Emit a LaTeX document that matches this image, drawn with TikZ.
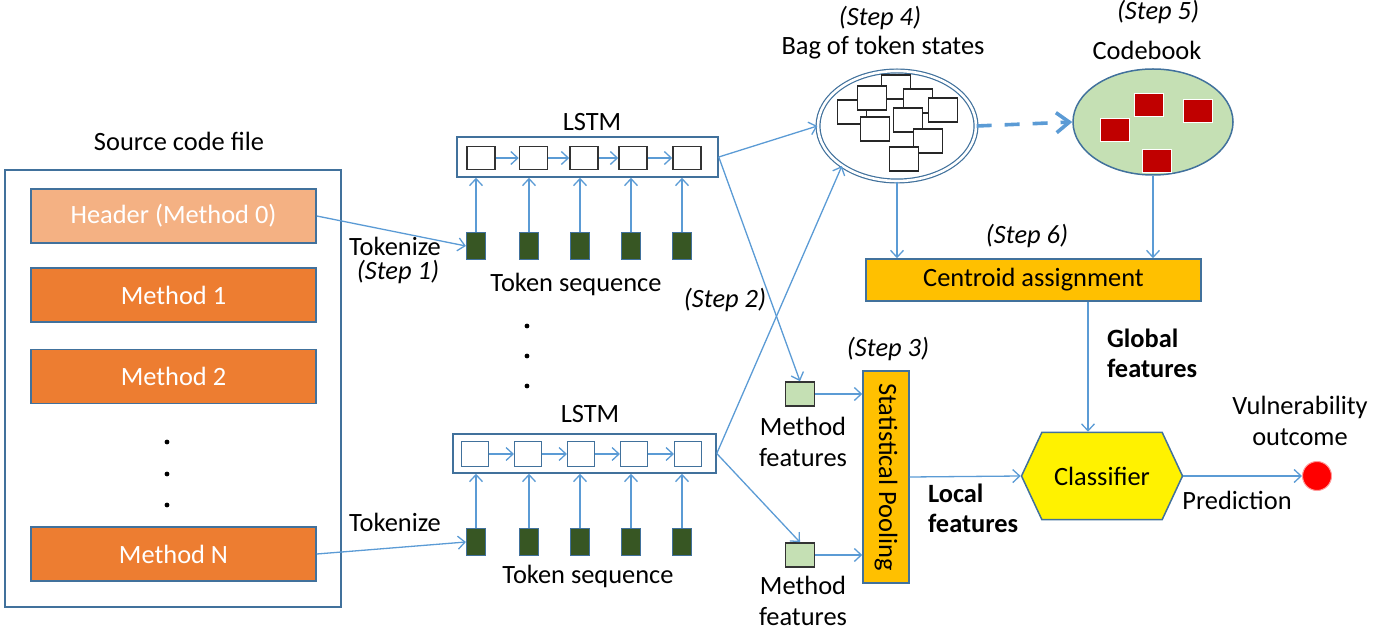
\documentclass[tikz,border=0pt]{standalone}
\usepackage{fontspec}
\setmainfont{Carlito}
\usetikzlibrary{shapes.geometric,shapes.symbols,arrows.meta,calc}
\definecolor{linkblue}{RGB}{91,155,213}
\definecolor{edgeblue}{RGB}{65,113,156}
\definecolor{headerorange}{RGB}{244,177,131}
\definecolor{methodorange}{RGB}{237,125,49}
\definecolor{tokengreen}{RGB}{55,86,35}
\definecolor{codegreen}{RGB}{197,224,180}
\definecolor{poolgold}{RGB}{255,192,0}
\definecolor{centroidred}{RGB}{192,0,0}

\tikzset{
  link/.style={->, draw=linkblue, line width=0.65pt},
  methodbox/.style={draw=edgeblue, line width=0.75pt, fill=methodorange, text=white, minimum width=142.5pt, minimum height=27pt, inner sep=0pt},
  lstmbox/.style={draw=edgeblue, line width=0.75pt, minimum width=130.5pt, minimum height=20pt, inner sep=0pt},
  cell/.style={draw=black!80, line width=0.75pt, fill=white, minimum width=14pt, minimum height=11.5pt, inner sep=0pt},
  token/.style={draw=edgeblue, line width=0.6pt, fill=tokengreen, minimum width=9.5pt, minimum height=13.5pt, inner sep=0pt},
  featbox/.style={draw=black!80, line width=0.75pt, fill=codegreen, minimum width=14.5pt, minimum height=12pt, inner sep=0pt},
  statebox/.style={draw=black!85, line width=0.75pt, fill=white, minimum width=14.5pt, minimum height=12pt, inner sep=0pt},
  centroid/.style={draw=white, line width=0.5pt, fill=centroidred, minimum width=14.5pt, minimum height=11.5pt, inner sep=0pt},
  goldbox/.style={draw=edgeblue, line width=0.75pt, fill=poolgold, inner sep=0pt},
  steplabel/.style={font=\fontsize{13.2}{15.5}\selectfont\itshape},
  boldlabel/.style={font=\fontsize{13.2}{15}\selectfont\bfseries, align=left, anchor=west},
}

\begin{document}
\begin{tikzpicture}[x=0.5pt, y=-0.5pt, >={Straight Barb[length=3.5pt,width=6.5pt]}, font=\fontsize{13.2}{15.5}\selectfont]
        \useasboundingbox (0,0) rectangle (1396,635);

        % Source code file
        \node[draw=edgeblue, line width=0.75pt, minimum width=168pt, minimum height=218.5pt, inner sep=0pt] (file) at (173,388.5) {};
        \node (filelabel) at (179,141) {Source code file};
        \node[methodbox, fill=headerorange] (m0) at (173.5,216) {Header (Method 0)};
        \node[methodbox] (m1) at (173.5,295) {Method 1};
        \node[methodbox] (m2) at (173.5,376.5) {Method 2};
        \node[methodbox] (mN) at (173.5,554) {Method N};
        \foreach \y in {442,474,505} \fill (167,\y) circle (1.2pt);

        % LSTM of the header
        \node[lstmbox] (lstmA) at (587.5,157) {};
        \node (lstmAlabel) at (592,122) {LSTM};
        \foreach \i/\cx/\tx in {1/481/476,2/533.5/529,3/584/580,4/633/631,5/687/682} {
            \node[cell] (a\i) at (\cx,158) {};
            \node[token] (ta\i) at (\tx,246) {};
            \draw[link] (ta\i.north) -- (ta\i.north |- lstmA.south);
        }
        \foreach \i/\j in {1/2,2/3,3/4,4/5} \draw[link] (a\i) -- (a\j);
        \node (seqA) at (576,284) {Token sequence};
        \node (tokA) at (395,246) {Tokenize};
        \node[steplabel] (step1) at (398,272) {(Step 1)};
        \draw[link] (m0.east) -- (ta1.west);

        \foreach \y in {326,356,386} \fill (527,\y) circle (1.2pt);

        % LSTM of method N
        \node[lstmbox, minimum width=131.5pt, minimum height=19.5pt] (lstmB) at (584.5,453.5) {};
        \node (lstmBlabel) at (590,414) {LSTM};
        \foreach \i/\cx/\tx in {1/475/476,2/528/529,3/581/580,4/634/631,5/688/682} {
            \node[cell, draw=edgeblue, minimum width=13.3pt, minimum height=12.5pt] (b\i) at (\cx,454) {};
            \node[token] (tb\i) at (\tx,542) {};
            \draw[link] (tb\i.north) -- (tb\i.north |- lstmB.south);
        }
        \foreach \i/\j in {1/2,2/3,3/4,4/5} \draw[link] (b\i) -- (b\j);
        \node (seqB) at (588,576) {Token sequence};
        \node (tokB) at (395,522) {Tokenize};
        \draw[link] (mN.east) -- (tb1.west);

        % Bag of token states
        \node[ellipse, draw=edgeblue, double, double distance=1.3pt, line width=0.6pt, minimum width=79pt, minimum height=55pt, inner sep=0pt] (bag) at (897,126) {};
        \foreach \sx/\sy in {852/112,896/87,872/98,918/101,943/110,875/129,908/120,928/141,904/159}
            \node[statebox] at (\sx,\sy) {};
        \node[steplabel] (step4) at (880,18) {(Step 4)};
        \node (baglabel) at (883,48) {Bag of token states};

        % Codebook
        \node[ellipse, draw=edgeblue, line width=0.75pt, fill=codegreen, minimum width=80pt, minimum height=53pt, inner sep=0pt] (codebook) at (1153,122) {};
        \foreach \sx/\sy in {1149/105,1198/111,1115/130,1157/161}
            \node[centroid] at (\sx,\sy) {};
        \node[steplabel] (step5) at (1158,12) {(Step 5)};
        \node (codelabel) at (1147,50) {Codebook};
        \draw[->, draw=linkblue, line width=1.8pt, dash pattern=on 7.5pt off 6.5pt, >={Straight Barb[length=6.5pt,width=10pt]}] (bag.east) -- (codebook.west);

        % Step 2
        \draw[link] (lstmA.east) -- (bag.west);
        \draw[link] (lstmB.east) -- (bag.216);
        \node[featbox] (featA) at (800,394) {};
        \node[featbox] (featB) at (800,555) {};
        \draw[link] (lstmA.east) -- (featA.north);
        \draw[link] (lstmB.east) -- (featB.north);
        \node[steplabel] (step2) at (725,300) {(Step 2)};
        \node[align=center] (featAlabel) at (803,442) {Method\\features};
        \node[align=center] (featBlabel) at (803,601) {Method\\features};

        % Step 3
        \node[goldbox, minimum width=23pt, minimum height=106pt] (pool) at (886,477) {};
        \node[rotate=-90] (pooltext) at (pool.center) {Statistical Pooling};
        \node[steplabel] (step3) at (888,349) {(Step 3)};
        \draw[link] (featA.east) -- (featA.east -| pool.west);
        \draw[link] (featB.east) -- (featB.east -| pool.west);

        % Step 6
        \node[goldbox, minimum width=167.5pt, minimum height=21pt] (cent) at (1033.5,280) {Centroid assignment};
        \node[steplabel] (step6) at (1027,236) {(Step 6)};
        \draw[link] (bag.south) -- (bag.south |- cent.north);
        \draw[link] (codebook.south) -- (codebook.south |- cent.north);

        % Classifier
        \node[signal, signal to=east and west, signal pointer angle=130, draw=edgeblue, line width=0.75pt, fill=yellow, minimum width=80.5pt, minimum height=43.5pt, inner sep=0pt] (clf) at (1102,476) {Classifier};
        \draw[link] ($(cent.south)+(54.5,0)$) coordinate (gstart) -- (gstart |- clf.north);
        \node[boldlabel] (globalfeat) at (1100,353) {Global\\features};
        \draw[link] (pool.east) -- (clf.west);
        \node[boldlabel] (localfeat) at (921,508) {Local\\features};

        % Outcome
        \node[circle, draw=red!40, line width=0.5pt, fill=red, minimum size=14.5pt, inner sep=0pt] (outcome) at (1317,476) {};
        \draw[link] (clf.east) -- (outcome.west);
        \node (predlabel) at (1237,500) {Prediction};
        \node[align=center] (outlabel) at (1300,421) {Vulnerability\\outcome};
\end{tikzpicture}
\end{document}
